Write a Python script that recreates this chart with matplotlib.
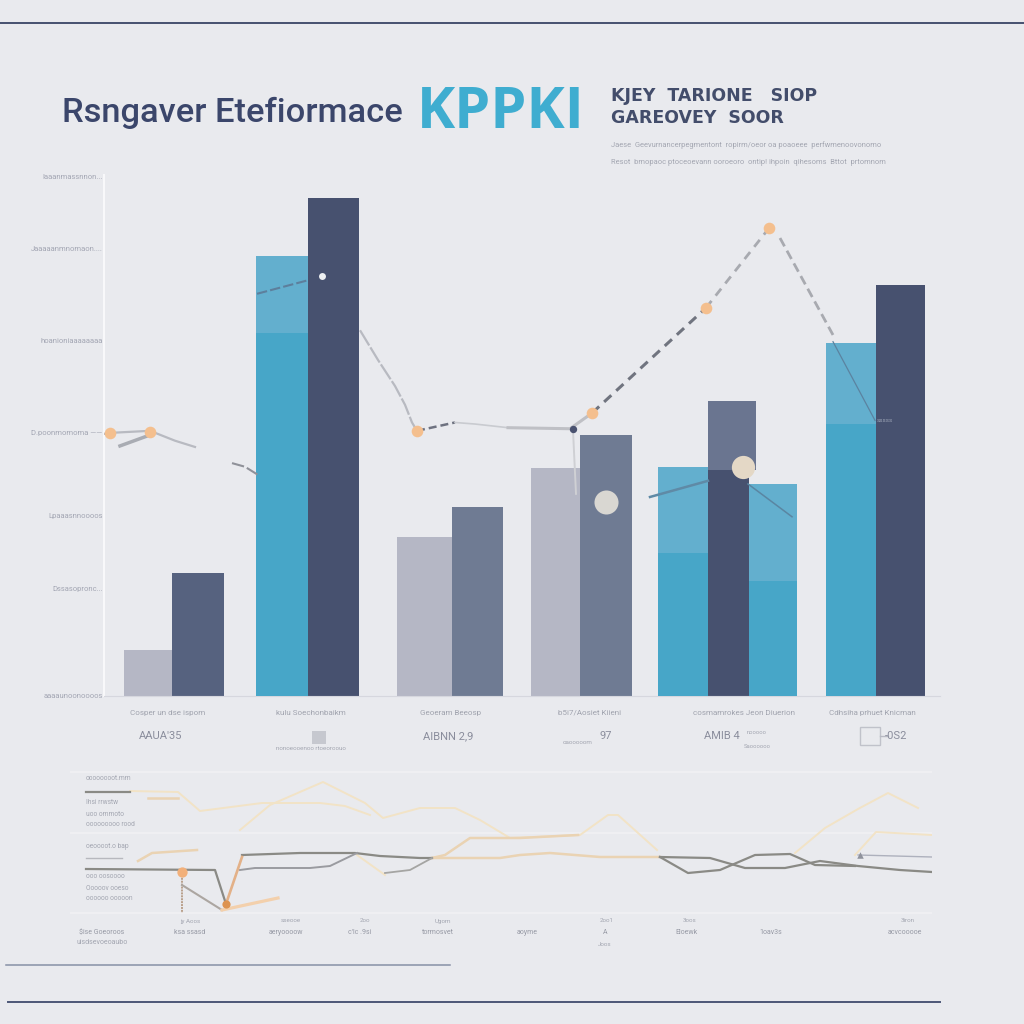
import matplotlib
matplotlib.use('Agg')
import matplotlib.pyplot as plt
from matplotlib.lines import Line2D
from matplotlib.patches import Rectangle

plt.rcParams['font.family'] = ['Roboto', 'DejaVu Sans']

# main chart: bar heights in % of the axis
light_gray = [8.8, 30.5, 43.8]
slate = [23.6, 36.3, 50.1]
blue_low = [69.7, 27.4, 22.1, 52.2]
blue_top = [14.8, 16.6, 18.6, 15.6]
navy = [95.6, 43.4, 78.9]
navy_pale = 13.2

y_tick_values = [0, 20.7, 34.7, 50.5, 68.3, 85.9, 99.8]
y_tick_labels = ['aaaaunoonoooos', 'Dssasopronc...', 'Lpaaasnnoooos', 'D.poonmomoma ——',
                 'hoanioniaaaaaaaa', 'Jaaaaanmnomaon....', 'Iaaanmassnnon...']
group_labels = ['Cosper un dse ispom', 'kulu Soechonbaikm', 'Geoeram Beeosp',
                'b5i7/Aosiet Kiieni', 'cosmamrokes Jeon Diuerion', 'Cdhsiha prhuet Knicman']
group_values = ['AAUA\'35', 'AIBNN 2,9', '97', 'AMIB 4', '-0S2']

# trend, in pieces because it breaks and changes look along the way
trend_a_x = [104, 110, 150, 175, 195]
trend_a_y = [50.3, 50.5, 50.9, 49.0, 47.8]
trend_a2_x = [120, 150]
trend_a2_y = [48.0, 50.1]
trend_b_x = [232, 245, 260]
trend_b_y = [44.7, 44.0, 42.2]
trend_c_x = [257, 308]
trend_c_y = [77.2, 79.8]
trend_d_x = [360, 378, 395, 405, 412, 417]
trend_d_y = [70.2, 64.5, 59.5, 55.9, 52.5, 50.9]
trend_e_x = [417, 455]
trend_e_y = [50.9, 52.5]
trend_f_x = [455, 475, 508]
trend_f_y = [52.5, 52.2, 51.5]
trend_g_x = [508, 570, 592]
trend_g_y = [51.5, 51.3, 54.3]
drop_x = [573, 576]
drop_y = [51, 38.8]
trend_h_x = [592, 706]
trend_h_y = [54.3, 74.5]
trend_i_x = [706, 769]
trend_i_y = [74.5, 89.8]
trend_j_x = [780, 833]
trend_j_y = [87.9, 69.3]
trend_k_x = [833, 875]
trend_k_y = [68, 52.9]
inner_a_x = [650, 708]
inner_a_y = [38.2, 41.3]
inner_b_x = [748, 792]
inner_b_y = [40.7, 34.4]
dots_x = [110, 150, 417, 592, 706, 769]
dots_y = [50.5, 50.7, 50.9, 54.3, 74.5, 89.8]

# lower panel
pale_a_x = [130, 178, 200, 262, 320, 345, 370]
pale_a_y = [124, 123, 104, 112, 112, 109, 100]
pale_b_x = [240, 270, 323, 365, 383, 420, 455, 480, 510, 580, 608, 618, 657]
pale_b_y = [85, 110, 133, 112, 97, 107, 107, 95, 77, 80, 100, 100, 65]
gray_a_x = [86, 130]
gray_a_y = [123, 123]
tan_short_x = [148, 178]
tan_short_y = [117, 117]
tan_b_x = [138, 152, 197]
tan_b_y = [54, 62, 65]
dark_a_x = [86, 215, 226]
dark_a_y = [46, 45, 11]
orange_up_x = [226, 242]
orange_up_y = [11, 58]
dark_b_x = [242, 300, 355, 380, 420, 432]
dark_b_y = [60, 62, 62, 59, 57, 57]
tan_c_x = [432, 500, 520, 550, 600, 660]
tan_c_y = [57, 57, 60, 62, 58, 58]
dark_c_x = [660, 710, 745, 785, 820, 858, 900, 932]
dark_c_y = [58, 57, 47, 47, 54, 49, 45, 43]
gray_b_x = [240, 255, 310, 330, 357]
gray_b_y = [45, 47, 47, 49, 62]
pale_c_x = [357, 385]
pale_c_y = [60, 40]
gray_c_x = [385, 410, 432]
gray_c_y = [42, 45, 57]
tan_d_x = [432, 445, 470, 520, 578]
tan_d_y = [57, 60, 77, 77, 80]
dark_d_x = [660, 688, 720, 755, 790, 815, 855]
dark_d_y = [58, 42, 45, 60, 61, 50, 49]
pale_d_x = [795, 825, 858, 888, 918]
pale_d_y = [62, 87, 106, 122, 107]
pale_e_x = [855, 876, 932]
pale_e_y = [60, 83, 80]
thin_x = [858, 932]
thin_y = [60, 58]
brown_x = [182, 182]
brown_y = [43, 2]
fall_x = [182, 222]
fall_y = [30, 5]
orange_x = [222, 278]
orange_y = [5, 17]

bg = '#e9eaee'
W = 1024.0


def fx(px):
    return px / W


def fy(py):
    return 1 - py / W


def ftext(px, py, s, **kw):
    kw.setdefault('ha', 'center')
    kw.setdefault('va', 'center')
    kw.setdefault('fontsize', 5)
    kw.setdefault('color', '#a3a6b1')
    fig.text(fx(px), fy(py), s, **kw)


def hline(x0, x1, py, color, lw=1.3, alpha=1):
    fig.add_artist(Line2D([fx(x0), fx(x1)], [fy(py), fy(py)], color=color, lw=lw, alpha=alpha))


fig = plt.figure(figsize=(10.24, 10.24), dpi=100, facecolor=bg)

ax = fig.add_axes([fx(104), fy(696), fx(940 - 104), (696 - 175) / W])
ax.set_facecolor('none')
ax.set_xlim(104, 940)
ax.set_ylim(0, 100)
for s in ['top', 'right']:
    ax.spines[s].set_visible(False)
ax.spines['left'].set_color('#f8f8fa')
ax.spines['left'].set_linewidth(1.5)
ax.spines['bottom'].set_color('#d6d7de')
ax.set_yticks(y_tick_values)
ax.set_yticklabels(y_tick_labels, fontsize=5.5, color='#a3a6b3')
ax.tick_params(axis='y', length=0, pad=1)
ax.set_xticks([168, 311, 451, 590, 744, 872])
ax.set_xticklabels(group_labels, fontsize=5.8, color='#a0a3ae')
ax.tick_params(axis='x', length=0, pad=10)

# bars: left edge and width per bar
gray_pos = [(124, 48), (397, 55), (531, 49)]
slate_pos = [(172, 52), (452, 51), (580, 52)]
blue_pos = [(256, 52), (658, 50), (749, 48), (826, 50)]
navy_pos = [(308, 51), (708, 41), (876, 49)]

for (x, w), v in zip(gray_pos, light_gray):
    ax.bar(x, v, w, align='edge', color='#b5b7c5', zorder=2)
for i, ((x, w), v) in enumerate(zip(slate_pos, slate)):
    ax.bar(x, v, w, align='edge', color='#56627f' if i == 0 else '#6f7b93', zorder=2)
for (x, w), v in zip(navy_pos, navy):
    ax.bar(x, v, w, align='edge', color='#47516f', zorder=2)
# the middle navy bar is paler and wider at the top
ax.bar(708, navy_pale, 48, bottom=navy[1], align='edge', color='#6a7590', zorder=2)
for (x, w), lo, hi in zip(blue_pos, blue_low, blue_top):
    ax.bar(x, lo, w, align='edge', color='#47a6c8', zorder=3)
    ax.bar(x, hi, w, bottom=lo, align='edge', color='#63afce', zorder=3)

pale_line = '#b8bac1'
ax.plot(trend_a_x, trend_a_y, color=pale_line, lw=1.6, zorder=4)
ax.plot(trend_a2_x, trend_a2_y, color='#a9acb3', lw=2.5, zorder=4)
ax.plot(trend_b_x, trend_b_y, color='#8f9199', lw=1.5, ls=(0, (6, 1.5)), zorder=4)
ax.plot(trend_c_x, trend_c_y, color='#5d7f9c', lw=1.5, ls=(0, (5, 1.5)), zorder=4)
ax.plot(trend_d_x, trend_d_y, color=pale_line, lw=1.6, ls=(0, (8, 1)), zorder=4)
ax.plot(trend_e_x, trend_e_y, color='#6e7280', lw=1.8, ls=(0, (3.2, 1.6)), zorder=4)
ax.plot(trend_f_x, trend_f_y, color='#c9cbd0', lw=1.2, zorder=4)
ax.plot(trend_g_x, trend_g_y, color='#bfc0c5', lw=2.2, zorder=4)
ax.plot(drop_x, drop_y, color='#cfd0d4', lw=1.4, zorder=4)
ax.plot(trend_h_x, trend_h_y, color='#70747f', lw=2.2, ls=(0, (3.2, 2.2)), zorder=4)
ax.plot(trend_i_x, trend_i_y, color='#a8aab0', lw=2, ls=(0, (3.2, 2.4)), zorder=4)
ax.plot(trend_j_x, trend_j_y, color='#a8aab0', lw=2, ls=(0, (3.4, 1.8)), zorder=4)
ax.plot(trend_k_x, trend_k_y, color='#5b83a0', lw=0.9, zorder=4)
ax.plot(inner_a_x, inner_a_y, color='#5f8aa6', lw=1.8, zorder=4)
ax.plot(inner_b_x, inner_b_y, color='#5a86a2', lw=1.1, zorder=4)
ax.scatter(dots_x, dots_y, s=70, color='#f4bf8e', zorder=5, linewidths=0)
ax.scatter([606], [37.2], s=300, color='#d9d7d2', zorder=5, linewidths=0)
ax.scatter([743], [44.0], s=280, color='#e4d8c6', zorder=5, linewidths=0)
ax.scatter([322], [80.7], s=25, color='#eef0f2', zorder=5, linewidths=0)
ax.scatter([573], [51.3], s=28, color='#4a5270', zorder=5, linewidths=0)
ax.text(885, 52.9, 'sssss', fontsize=4.5, color='#9aa2b4', ha='center', va='center', zorder=5)

# lower panel
low = fig.add_axes([fx(70), fy(915), fx(932 - 70), 145 / W])
low.set_facecolor('none')
low.set_xlim(70, 932)
low.set_ylim(0, 145)
for s in low.spines.values():
    s.set_visible(False)
low.set_xticks([])
low.set_yticks([2, 82, 143])
low.set_yticklabels(['', '', ''])
low.tick_params(axis='y', length=0)
low.grid(axis='y', color='#f1f1f3', lw=1.2)

pale = dict(color='#f2e3c6', lw=1.4)
tan = dict(color='#ead3b3', lw=1.8)
dark = dict(color='#8a8a85', lw=1.6)
low.plot(pale_a_x, pale_a_y, **pale)
low.plot(pale_b_x, pale_b_y, **pale)
low.plot(pale_c_x, pale_c_y, **pale)
low.plot(pale_d_x, pale_d_y, **pale)
low.plot(pale_e_x, pale_e_y, **pale)
low.plot(gray_a_x, gray_a_y, **dark)
low.plot(tan_short_x, tan_short_y, **tan)
low.plot(tan_b_x, tan_b_y, **tan)
low.plot(tan_c_x, tan_c_y, **tan)
low.plot(tan_d_x, tan_d_y, **tan)
low.plot(dark_a_x, dark_a_y, **dark)
low.plot(dark_b_x, dark_b_y, **dark)
low.plot(dark_c_x, dark_c_y, **dark)
low.plot(dark_d_x, dark_d_y, **dark)
low.plot(gray_b_x, gray_b_y, color='#9a9ba0', lw=1.4)
low.plot(gray_c_x, gray_c_y, color='#a5a5a3', lw=1.3)
low.plot(thin_x, thin_y, color='#aeb1bd', lw=1)
low.plot(orange_up_x, orange_up_y, color='#e3b188', lw=1.9)
low.plot(brown_x, brown_y, color='#b9a08c', lw=1.4, ls=(0, (1, 0.5)))
low.plot(fall_x, fall_y, color='#aca6a1', lw=1.5)
low.plot(orange_x, orange_y, color='#f3d0ac', lw=2.3)
low.scatter([182], [43], s=55, color='#f2b07a', zorder=5, linewidths=0)
low.scatter([226], [11], s=35, color='#dd9350', zorder=5, linewidths=0)
low.scatter([860], [60], s=22, color='#8f929c', marker='^', zorder=5, linewidths=0)

# page furniture
hline(0, 1024, 23, '#46506f', 1.4)
hline(6, 450, 965, '#8790a6', 1.1)
hline(8, 940, 1002, '#4c5676', 1.4)

ftext(62, 113, 'Rsngaver Etefiormace', ha='left', fontsize=24.8, color='#3b466b', fontweight='medium')
ftext(417, 112.5, 'KPPKI', ha='left', fontsize=41.5, color='#3fadd0', fontweight='bold',
      family=['Open Sans', 'DejaVu Sans'])
ftext(611, 96, 'KJEY  TARIONE   SIOP', ha='left', fontsize=12.5, color='#434d6b', fontweight='bold',
      family=['DejaVu Sans'])
ftext(611, 118, 'GAREOVEY  SOOR', ha='left', fontsize=12.5, color='#434d6b', fontweight='bold',
      family=['DejaVu Sans'])
ftext(611, 145, 'Jaese  Geevurnancerpegmentont  ropirm/oeor oa poaoeee  perfwmenoovonomo', ha='left', fontsize=5.4)
ftext(611, 162, 'Resot  bmopaoc ptoceoevann ooroeoro  ontip! ihpoin  qihesoms  Bttot  prtomnom', ha='left', fontsize=5.4)

for px, s in zip([161, 448, 606, 722, 896], group_values):
    ftext(px, 736, s, fontsize=8, color='#8a8d9c')
ftext(311, 749, 'nonoeooenoo rtoeoroouo', fontsize=4.5)
ftext(578, 742, 'oaooooom', fontsize=4.5)
ftext(757, 733, 'nooooo', fontsize=4.2)
ftext(757, 746, 'Saoooooo', fontsize=4.2)
fig.add_artist(Rectangle((fx(860), fy(745)), 20 / W, 18 / W, fill=False, edgecolor='#c0c2ca', lw=1))
fig.add_artist(Rectangle((fx(312), fy(744)), 14 / W, 13 / W, facecolor='#c6c8cf', edgecolor='none'))
hline(880, 888, 736, '#b8bac3', 1)

# lower panel side and bottom labels
side_y = [779, 803, 814, 825, 847, 877, 889, 899]
side_s = ['oooooooot.mm', 'Ihsi rrwstw', 'uoo ommoto', 'ooooooooo rood', 'oeoooot.o bap',
          'ooo oosoooo', 'Ooooov ooeso', 'oooooo ooooon']
for py, s in zip(side_y, side_s):
    ftext(86, py, s, ha='left', fontsize=4.8)
hline(86, 122, 858, '#b7b8be', 1)

bottom_x = [102, 190, 286, 360, 438, 527, 605, 686, 771, 905]
bottom_s = ['$ise Goeoroos', 'ksa ssasd', 'aeryoooow', "c'lc .9si", 'tormosvet', 'aoyme', 'A', 'Eloewk', '1oav3s', 'acvcooooe']
for px, s in zip(bottom_x, bottom_s):
    ftext(px, 933, s, fontsize=5, color='#979aa5')
upper_x = [190, 291, 365, 443, 607, 690, 908]
upper_s = ['jy Aoos', 'sseooe', '2oo', 'Ugom', '2oo1', '3oos', '3iron']
for px, s in zip(upper_x, upper_s):
    ftext(px, 921, s, fontsize=4.5)
ftext(102, 943, 'uisdsevoeoaubo', fontsize=5)
ftext(605, 945, 'Joos', fontsize=4.5)

fig.savefig('out.png', dpi=100, facecolor=bg)
